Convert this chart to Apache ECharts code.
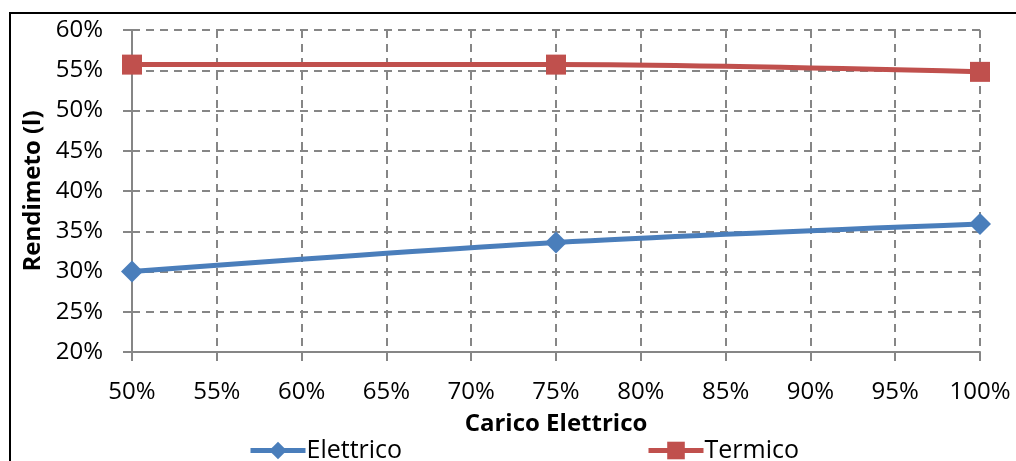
<!DOCTYPE html>
<html>
<head>
<meta charset="utf-8">
<script src="https://cdn.jsdelivr.net/npm/echarts@6/dist/echarts.min.js"></script>
<style>
  html, body { margin: 0; padding: 0; background: #fff; }
  #frame { position: absolute; left: 9px; top: 12px; width: 1020px; height: 460px;
           border-left: 2px solid #000; border-top: 2px solid #000; box-sizing: border-box; }
  #chart { position: absolute; left: 0; top: 0; width: 1016px; height: 461px; }
</style>
</head>
<body>
<div id="frame"></div>
<div id="chart"></div>
<script>
// Electrical load (%) and efficiencies (%)
const carico = [50, 75, 100];
const elettrico = [30.0, 33.6, 35.9];
const termico = [55.7, 55.7, 54.8];
const xTicks = [50, 55, 60, 65, 70, 75, 80, 85, 90, 95, 100];
const yTicks = [20, 25, 30, 35, 40, 45, 50, 55, 60];

const FONT = '"Open Sans", Carlito, sans-serif';
const FS = 24;
const BLUE = '#4A7EBB';
const RED = '#C0504D';
const AXIS = '#868686';

const chart = echarts.init(document.getElementById('chart'), null, { renderer: 'canvas' });

const pairs = (xs, ys) => xs.map((x, i) => [x, ys[i]]);

const legendBase = {
  top: 433, itemWidth: 55, itemHeight: 22, itemGap: 5,
  lineStyle: { width: 5 },
  textStyle: { fontFamily: FONT, fontSize: 25, color: '#000', padding: [0, 0, 0, -4] }
};

chart.setOption({
  animation: false,
  backgroundColor: 'transparent',
  grid: { left: 132, right: 36, top: 30, bottom: 109 },
  xAxis: {
    type: 'value',
    min: xTicks[0], max: xTicks[xTicks.length - 1], interval: 5,
    name: 'Carico Elettrico',
    nameLocation: 'middle',
    nameGap: 60,
    nameTextStyle: { fontFamily: FONT, fontSize: FS, fontWeight: 'bold', color: '#000' },
    axisLine: { lineStyle: { color: AXIS, width: 2 } },
    axisTick: { show: true, length: 9, lineStyle: { color: AXIS, width: 2 } },
    axisLabel: { formatter: v => v + '%', fontFamily: FONT, fontSize: FS, color: '#000', margin: 28 },
    splitLine: { show: true, lineStyle: { color: AXIS, width: 2, type: [8, 6] } }
  },
  yAxis: {
    type: 'value',
    min: yTicks[0], max: yTicks[yTicks.length - 1], interval: 5,
    name: 'Rendimeto (l)',
    nameLocation: 'middle',
    nameGap: 86,
    nameTextStyle: { fontFamily: FONT, fontSize: FS, fontWeight: 'bold', color: '#000' },
    axisLine: { show: true, lineStyle: { color: AXIS, width: 2 } },
    axisTick: { show: true, length: 9, lineStyle: { color: AXIS, width: 2 } },
    axisLabel: { formatter: v => v + '%', fontFamily: FONT, fontSize: FS, color: '#000', margin: 29 },
    splitLine: { show: true, lineStyle: { color: AXIS, width: 2, type: [8, 6] } }
  },
  legend: [
    Object.assign({ data: ['Elettrico'], left: 243 }, legendBase),
    Object.assign({ data: ['Termico'], left: 641 }, legendBase)
  ],
  series: [
    {
      name: 'Elettrico', type: 'line', smooth: 0.3,
      data: pairs(carico, elettrico),
      symbol: 'diamond', symbolSize: 22,
      lineStyle: { color: BLUE, width: 5 },
      itemStyle: { color: BLUE }
    },
    {
      name: 'Termico', type: 'line', smooth: 0.3,
      data: pairs(carico, termico),
      symbol: 'rect', symbolSize: 20,
      lineStyle: { color: RED, width: 5 },
      itemStyle: { color: RED }
    }
  ]
});
</script>
</body>
</html>
